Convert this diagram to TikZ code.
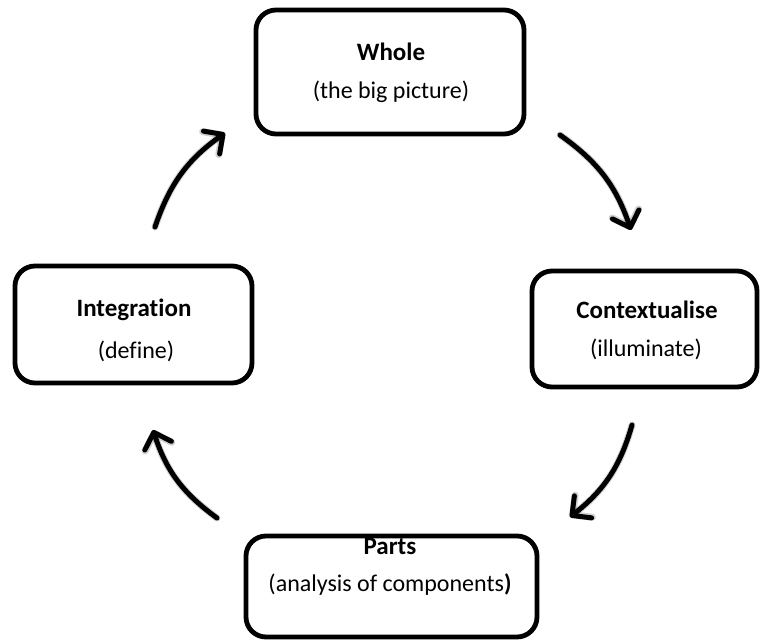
\documentclass[tikz,border=0pt]{standalone}
\usepackage{fontspec}
\setmainfont{Carlito}[Ligatures={NoCommon}]
\usetikzlibrary{arrows.meta}
\begin{document}
\begin{tikzpicture}[x=1pt,y=-1pt,
  stage/.style={draw=black, line width=4.8pt, rounded corners=20pt, inner sep=0pt, fill=white},
  title/.style={font=\fontsize{25}{29}\selectfont\bfseries, anchor=base, inner sep=0pt},
  sub/.style={font=\fontsize{24}{28}\selectfont, anchor=base, inner sep=0pt},
  flow/.style={line width=5pt, line cap=round, line join=round,
    -{Straight Barb[length=14pt,width=28pt,round]}, bend left=18},
  flowshade/.style={flow, draw=black, opacity=0.18, line width=7pt}
]
\useasboundingbox (0,0) rectangle (763,642);

% the four stages of the cycle
\node[stage, minimum width=268pt, minimum height=124pt] (whole) at (390,72) {};
\node[stage, minimum width=237pt, minimum height=117pt] (integ) at (133.5,324.5) {};
\node[stage, minimum width=225pt, minimum height=116pt] (context) at (644.5,329) {};
\node[stage, minimum width=291pt, minimum height=101pt] (parts) at (391.5,586.5) {};

% labels
\node[title] (wholeT) at (391,61) {Whole};
\node[sub]   (wholeS) at (391,98) {(the big picture)};
\node[title] (integT) at (134,316) {Integration};
\node[sub]   (integS) at (136,358) {(define)};
\node[title] (contextT) at (647,318) {Contextualise};
\node[sub]   (contextS) at (646,356) {(illuminate)};
\node[title] (partsT) at (390,554) {Parts};
\node[sub]   (partsS) at (390,591) {(analysis of components\textbf{)}};

% arrow ends
\coordinate (a1s) at (155,227);
\coordinate (a1e) at (225,133);
\coordinate (a2s) at (560,135);
\coordinate (a2e) at (631,230);
\coordinate (a3s) at (632,425);
\coordinate (a3e) at (570,517);
\coordinate (a4s) at (217,518);
\coordinate (a4e) at (153,430);

% soft shadow under the arrows
\begin{scope}[shift={(2,2)}]
  \draw[flowshade] (a1s) to (a1e);
  \draw[flowshade] (a2s) to (a2e);
  \draw[flowshade] (a3s) to (a3e);
  \draw[flowshade] (a4s) to (a4e);
\end{scope}

% clockwise flow between the stages
\draw[flow] (a1s) to (a1e);
\draw[flow] (a2s) to (a2e);
\draw[flow] (a3s) to (a3e);
\draw[flow] (a4s) to (a4e);
\end{tikzpicture}
\end{document}
